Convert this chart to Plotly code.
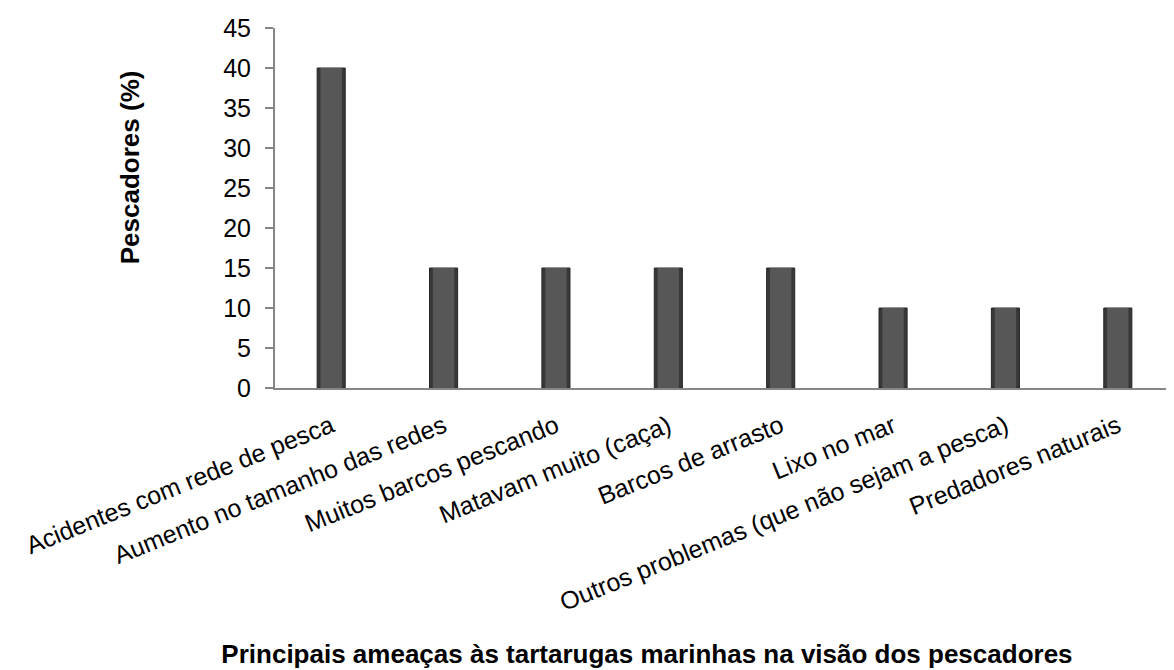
import plotly.graph_objects as go

categories = [
    "Acidentes com rede de pesca",
    "Aumento no tamanho das redes",
    "Muitos barcos pescando",
    "Matavam muito (caça)",
    "Barcos de arrasto",
    "Lixo no mar",
    "Outros problemas (que não sejam a pesca)",
    "Predadores naturais",
]
values = [40, 15, 15, 15, 15, 10, 10, 10]
y_ticks = [0, 5, 10, 15, 20, 25, 30, 35, 40, 45]

x_title = "Principais ameaças às tartarugas marinhas na visão dos pescadores"
y_title = "Pescadores (%)"

FONT = "Arial, Liberation Sans, sans-serif"

fig = go.Figure()
fig.add_trace(go.Bar(x=categories, y=values, width=0.25,
                     marker=dict(color="#383838", line=dict(color="#262626", width=1)),
                     hoverinfo="skip", showlegend=False))
fig.add_trace(go.Bar(x=categories, y=values, width=0.19,
                     marker=dict(color="#575757", line=dict(width=0)),
                     showlegend=False))

# the page body has an 8px margin, so the figure is sized to fill the rest of the window
fig.update_layout(
    width=1166, height=662,
    margin=dict(l=267, r=0, t=20, b=282),
    paper_bgcolor="white", plot_bgcolor="white",
    barmode="overlay",
    font=dict(family=FONT, size=25, color="#000000"),
    title=dict(text="<b>" + x_title + "</b>", xref="container", yref="container",
               x=0.548, y=0.024, xanchor="center", yanchor="middle",
               font=dict(family=FONT, size=26, color="#000000")),
)
fig.update_xaxes(
    type="category", tickangle=-22, showline=True, linecolor="#868686", linewidth=2,
    ticks="", showgrid=False, tickfont=dict(size=25), automargin=False,
    ticklabelstandoff=12,
)
fig.update_yaxes(
    range=[0, 45], tickvals=y_ticks, showline=True, linecolor="#868686", linewidth=2,
    ticks="outside", ticklen=8, tickcolor="#868686", tickwidth=2,
    showgrid=False, zeroline=False, tickfont=dict(size=25), automargin=False,
    ticklabelstandoff=9,
)
fig.add_annotation(text="<b>" + y_title + "</b>", xref="paper", yref="paper",
                   x=-0.161, y=0.614, textangle=-90, showarrow=False,
                   xanchor="center", yanchor="middle",
                   font=dict(family=FONT, size=26, color="#000000"))

fig.write_html("out.html")
